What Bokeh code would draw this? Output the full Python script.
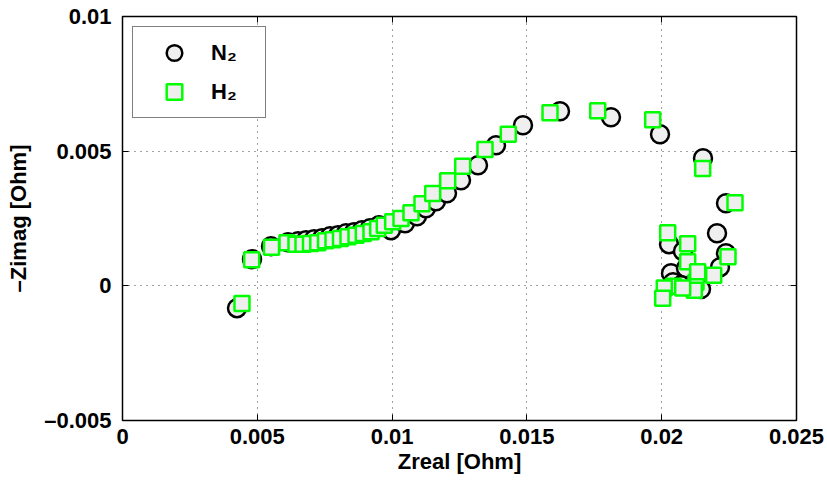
from bokeh.plotting import figure
from bokeh.models import (ColumnDataSource, Range1d, FixedTicker, LinearAxis,
                          Legend, LegendItem)
from bokeh.embed import file_html
from bokeh.resources import INLINE

# ---- data ----
n2_zreal = [0.004247, 0.004803, 0.005508, 0.006139, 0.006510, 0.006806, 0.007103,
            0.007400, 0.007697, 0.007993, 0.008290, 0.008587, 0.008884, 0.009180,
            0.009514, 0.009959, 0.010479, 0.010924, 0.011257, 0.011628, 0.012036,
            0.012556, 0.013186, 0.013854, 0.014855, 0.016228, 0.018119, 0.019937,
            0.021532, 0.022385, 0.022052, 0.020271, 0.020790, 0.022385, 0.022162,
            0.020345, 0.020901, 0.020419, 0.021458, 0.020716]
n2_zimag = [-0.000828, 0.000991, 0.001474, 0.001622, 0.001659, 0.001696, 0.001733,
            0.001771, 0.001845, 0.001882, 0.001956, 0.001993, 0.002068, 0.002142,
            0.002253, 0.002068, 0.002327, 0.002587, 0.002884, 0.003144, 0.003441,
            0.003924, 0.004480, 0.005223, 0.005965, 0.006485, 0.006262, 0.005631,
            0.004740, 0.003070, 0.001956, 0.001548, 0.001288, 0.001214, 0.000694,
            0.000471, 0.000657, 0.000137, -0.000122, 0.000026]

h2_zreal = [0.004432, 0.004792, 0.005527, 0.006102, 0.006435, 0.006695, 0.006973,
            0.007244, 0.007530, 0.007808, 0.008086, 0.008364, 0.008661, 0.008932,
            0.009217, 0.009466, 0.009711, 0.010022, 0.010330, 0.010701, 0.011109,
            0.011506, 0.012062, 0.012619, 0.013446, 0.014310, 0.015857, 0.017626,
            0.019666, 0.021521, 0.022719, 0.020223, 0.020964, 0.020964, 0.022459,
            0.021929, 0.021273, 0.021335, 0.021209, 0.020438, 0.020096, 0.020037,
            0.020779]
h2_zimag = [-0.000653, 0.000973, 0.001437, 0.001596, 0.001548, 0.001548, 0.001574,
            0.001604, 0.001670, 0.001715, 0.001759, 0.001819, 0.001882, 0.001945,
            0.002004, 0.002131, 0.002253, 0.002376, 0.002502, 0.002717, 0.003051,
            0.003430, 0.003905, 0.004443, 0.005063, 0.005631, 0.006422, 0.006496,
            0.006169, 0.004358, 0.003081, 0.001967, 0.001566, 0.000891, 0.001076,
            0.000397, 0.000137, 0.000520, -0.000160, -0.000011, -0.000085, -0.000457,
            -0.000085]

x_ticks = [0, 0.005, 0.01, 0.015, 0.02, 0.025]
x_tick_labels = ["0", "0.005", "0.01", "0.015", "0.02", "0.025"]
y_ticks = [-0.005, 0, 0.005, 0.01]
y_tick_labels = ["\u20130.005", "0", "0.005", "0.01"]

series_labels = ["N\u2082", "H\u2082"]

FONT = "Liberation Sans"
FS = "22px"

p = figure(width=827, height=483, output_backend="svg", toolbar_location=None,
           x_range=Range1d(0, 0.025), y_range=Range1d(-0.005, 0.01),
           min_border_left=122, min_border_right=31, min_border_top=16,
           min_border_bottom=63)
p.background_fill_color = "white"
p.border_fill_color = "white"
p.outline_line_color = "black"
p.outline_line_width = 1.5

src_n2 = ColumnDataSource(dict(x=n2_zreal, y=n2_zimag))
src_h2 = ColumnDataSource(dict(x=h2_zreal, y=h2_zimag))

r_n2 = p.scatter("x", "y", source=src_n2, marker="circle", size=18,
                 fill_color="#efefef", line_color="black", line_width=2.5)
r_h2 = p.scatter("x", "y", source=src_h2, marker="square", size=15,
                 fill_color="#efefef", line_color="#00ff00", line_width=2.5)

def style_axis(ax, ticks, labels=None):
    ax.ticker = FixedTicker(ticks=ticks)
    ax.axis_line_color = None
    ax.major_tick_in = 6
    ax.major_tick_out = 0
    ax.minor_tick_line_color = None
    ax.major_tick_line_color = "black"
    ax.major_tick_line_width = 1
    if labels is None:
        ax.major_label_text_font_size = "0px"
        ax.major_label_standoff = 0
        ax.major_label_text_color = None
    else:
        ax.major_label_overrides = dict(zip(ticks, labels))
        ax.major_label_text_font = FONT
        ax.major_label_text_font_style = "bold"
        ax.major_label_text_font_size = FS
        ax.major_label_text_color = "black"
        ax.axis_label_text_font = FONT
        ax.axis_label_text_font_style = "bold"
        ax.axis_label_text_font_size = FS
        ax.axis_label_text_color = "black"

xa = p.xaxis[0]
style_axis(xa, x_ticks, x_tick_labels)
xa.axis_label = "Zreal [Ohm]"
xa.major_label_standoff = 8
xa.axis_label_standoff = 2

ya = p.yaxis[0]
style_axis(ya, y_ticks, y_tick_labels)
ya.axis_label = "\u2013Zimag [Ohm]"
ya.major_label_standoff = 11
ya.axis_label_standoff = 10
ya.major_label_orientation = "horizontal"

top = LinearAxis()
style_axis(top, x_ticks)
p.add_layout(top, "above")
right = LinearAxis()
style_axis(right, y_ticks)
p.add_layout(right, "right")

p.xgrid.ticker = FixedTicker(ticks=x_ticks)
p.ygrid.ticker = FixedTicker(ticks=y_ticks)
for g in (p.xgrid[0], p.ygrid[0]):
    g.grid_line_color = "#444444"
    g.grid_line_dash = "1 5"
    g.grid_line_width = 1

legend = Legend(items=[LegendItem(label=series_labels[0], renderers=[r_n2]),
                       LegendItem(label=series_labels[1], renderers=[r_h2])],
                location="top_left", margin=10, padding=6, spacing=0,
                glyph_width=70, glyph_height=39, label_standoff=2, label_width=48,
                border_line_color="black", border_line_width=1.5,
                background_fill_color="white", background_fill_alpha=1,
                label_text_font=FONT, label_text_font_style="bold",
                label_text_font_size=FS, label_text_color="black")
p.add_layout(legend, "center")

open("out.html", "w").write(file_html(p, INLINE))
